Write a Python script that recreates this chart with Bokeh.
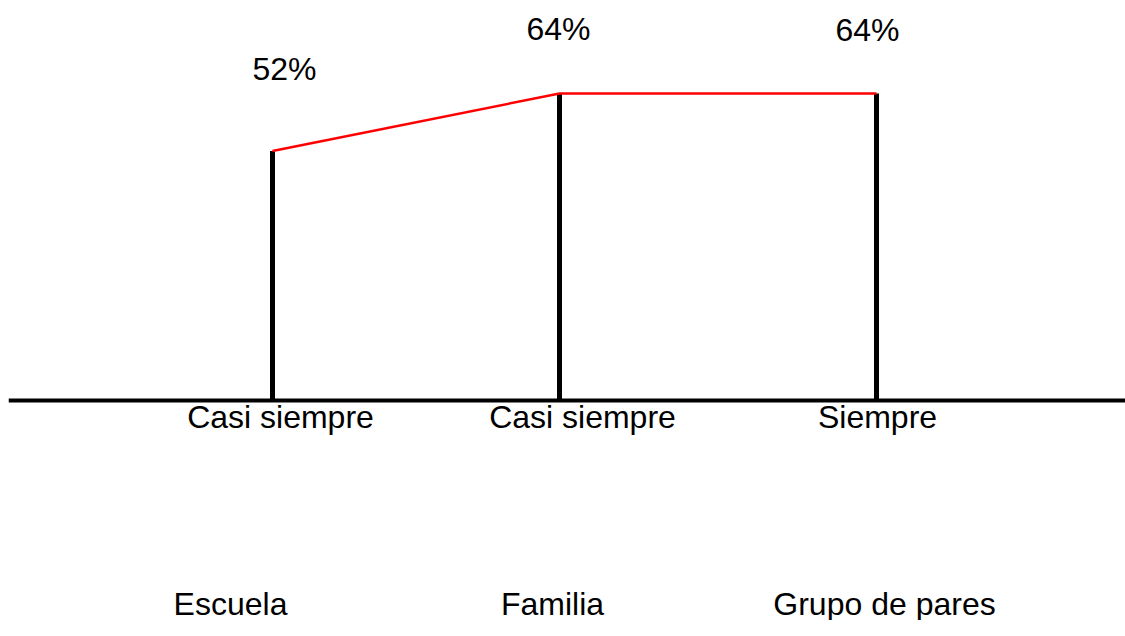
from bokeh.plotting import figure
from bokeh.models import Range1d, Span, ColumnDataSource
from bokeh.core.properties import value
from bokeh.embed import file_html
from bokeh.resources import INLINE

# ---- data ----
groups = ["Escuela", "Familia", "Grupo de pares"]
answers = ["Casi siempre", "Casi siempre", "Siempre"]
percent = [52, 64, 64]
pct_labels = ["52%", "64%", "64%"]

# ---- layout (pixel-like x scale) ----
x_bar = [272, 559, 876]
x_pct = [284, 558, 867]
x_ans = [280, 582, 877]
x_grp = [230, 552, 884]
pct_offset = [-82, -64, -63]

W, H = 1125, 620
LEFT = 8
PX_PER_PCT = 4.797
base_from_bottom = H - 400
p = figure(width=W, height=H, output_backend="svg", toolbar_location=None,
           x_range=Range1d(LEFT, W),
           y_range=Range1d(-base_from_bottom / PX_PER_PCT, (H - base_from_bottom) / PX_PER_PCT),
           min_border=0, min_border_left=LEFT, min_border_right=0,
           min_border_top=0, min_border_bottom=0)
p.axis.visible = False
p.grid.visible = False
p.outline_line_color = None
p.background_fill_color = "white"
p.border_fill_color = "white"

p.add_layout(Span(location=0, dimension="width", line_color="black", line_width=4))

src = ColumnDataSource(dict(x=x_bar, y=percent, y0=[0] * 3))
p.segment(x0="x", y0="y0", x1="x", y1="y", source=src, line_color="black", line_width=5)
p.line(x="x", y="y", source=src, line_color="#ff0000", line_width=2.5)

font = value("Liberation Sans")
p.text(x=x_pct, y=percent, text=pct_labels, y_offset=pct_offset,
       text_align="center", text_baseline="middle", text_font=font,
       text_font_size="32px", text_color="black")
p.text(x=x_ans, y=[0] * 3, text=answers, y_offset=[16] * 3,
       text_align="center", text_baseline="middle", text_font=font,
       text_font_size="32px", text_color="black")
p.text(x=x_grp, y=[0] * 3, text=groups, y_offset=[203] * 3,
       text_align="center", text_baseline="middle", text_font=font,
       text_font_size="32px", text_color="black")

open("out.html", "w").write(file_html(p, INLINE))
